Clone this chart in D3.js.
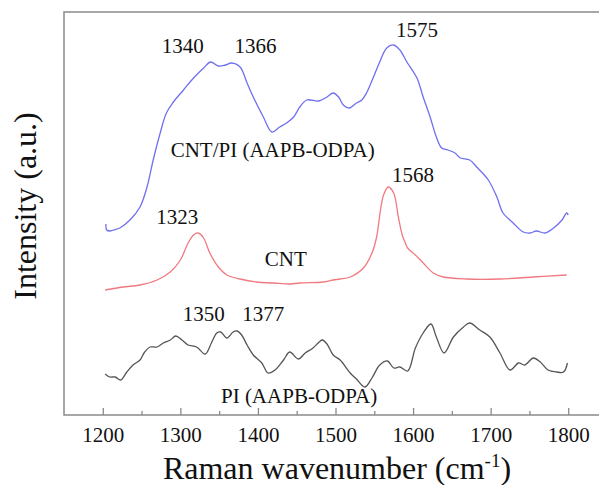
<!DOCTYPE html>
<html>
<head>
<meta charset="utf-8">
<script src="https://cdn.jsdelivr.net/npm/d3@7"></script>
<style>
  html, body { margin: 0; padding: 0; background: #fff; }
  svg { display: block; }
  text { font-family: "Liberation Serif", "Times New Roman", Times, serif; fill: #111; }
</style>
</head>
<body>
<svg id="chart" width="599" height="485"></svg>
<script>
// Raman shift (cm-1) and intensity (a.u.) for each spectrum
const cntPiWavenumber = [1204,1205,1209,1214,1222,1235,1248,1257,1265,1274,1282,1291,1304,1317,1330,1339,1349,1358,1366,1377,1386,1394,1407,1418,1428,1437,1446,1454,1463,1478,1489,1497,1504,1510,1518,1527,1534,1540,1549,1557,1566,1575,1583,1592,1605,1613,1622,1630,1637,1645,1654,1661,1673,1682,1697,1708,1716,1729,1742,1751,1759,1770,1781,1792,1798,1800];
const cntPiIntensity  = [191,185,184,185,187,195,208,228,255,282,302,313,325,337,347,353,349,350,352,348,332,318,298,283,288,292,298,308,315,314,318,322,318,310,307,312,315,322,338,353,367,370,365,353,337,318,298,278,267,265,262,257,255,248,235,218,202,192,183,182,184,182,187,195,202,200];

const cntWavenumber = [1203,1226,1248,1270,1287,1300,1310,1317,1323,1330,1338,1349,1360,1377,1398,1420,1441,1454,1484,1497,1506,1519,1536,1547,1553,1558,1562,1568,1575,1581,1586,1590,1593,1603,1613,1626,1639,1669,1712,1755,1798];
const cntIntensity  = [125,128,130,135,143,155,172,180,182,177,162,148,140,136,133,132,131,132,133,135,136,138,147,162,178,205,220,228,222,198,180,172,167,160,152,142,138,136,136,138,140];

const piWavenumber = [1203,1209,1216,1223,1231,1239,1248,1254,1261,1270,1278,1287,1294,1302,1310,1321,1332,1340,1347,1352,1360,1368,1373,1379,1386,1394,1405,1413,1422,1433,1441,1452,1461,1471,1479,1483,1489,1497,1506,1519,1527,1538,1547,1557,1567,1575,1583,1593,1603,1613,1623,1630,1640,1652,1665,1673,1686,1699,1712,1725,1736,1744,1755,1764,1774,1785,1794,1799];
const piIntensity  = [41,38,38,35,43,50,55,63,68,68,72,75,79,75,70,68,61,72,82,83,77,83,84,80,70,60,52,42,45,55,63,56,62,67,73,75,71,60,55,42,36,28,37,50,54,47,48,44,67,82,91,78,62,78,88,92,85,78,62,45,52,50,57,53,45,43,43,52];

const majorTicks = [1200,1300,1400,1500,1600,1700,1800];
const minorTicks = [1250,1350,1450,1550,1650,1750,1850];

const peakLabels = [
  {text: "1340", wn: 1303, y: 362},
  {text: "1366", wn: 1397, y: 362},
  {text: "1575", wn: 1605, y: 378},
  {text: "1323", wn: 1296, y: 191},
  {text: "1568", wn: 1600, y: 233},
  {text: "1350", wn: 1330, y: 94},
  {text: "1377", wn: 1407, y: 94}
];
const seriesLabels = [
  {text: "CNT/PI (AAPB-ODPA)", wn: 1419, y: 258},
  {text: "CNT", wn: 1436, y: 149},
  {text: "PI (AAPB-ODPA)", wn: 1453, y: 12}
];

const svg = d3.select("#chart");
const mLeft = 64, mTop = 12, mBottom = 415, mRight = 607;

const x = d3.scaleLinear().domain([1150, 1850]).range([mLeft, mRight]);
const y = d3.scaleLinear().domain([0, 403]).range([mBottom, mTop]);

// frame
svg.append("rect")
  .attr("x", mLeft).attr("y", mTop)
  .attr("width", mRight - mLeft).attr("height", mBottom - mTop)
  .attr("fill", "none").attr("stroke", "#8a8a8a").attr("stroke-width", 1.5);

// axes
const axisMajor = d3.axisBottom(x).tickValues(majorTicks).tickSizeInner(-7).tickSizeOuter(0).tickPadding(12).tickFormat(d3.format("d"));
const gA = svg.append("g").attr("transform", `translate(0,${mBottom})`).call(axisMajor);
gA.attr("font-family", null);
gA.select(".domain").remove();
gA.selectAll("line").attr("stroke", "#8a8a8a").attr("stroke-width", 1.3);
gA.selectAll("text").attr("font-size", 21).attr("fill", "#222");

const axisMinor = d3.axisBottom(x).tickValues(minorTicks).tickSizeInner(-4).tickSizeOuter(0).tickFormat("");
const gM = svg.append("g").attr("transform", `translate(0,${mBottom})`).call(axisMinor);
gM.select(".domain").remove();
gM.selectAll("line").attr("stroke", "#8a8a8a").attr("stroke-width", 1.3);

// lines
const line = d3.line().x(d => x(d[0])).y(d => y(d[1])).curve(d3.curveCatmullRom.alpha(0.5));
const series = [
  {wn: cntPiWavenumber, v: cntPiIntensity, color: "#6f6ff0"},
  {wn: cntWavenumber, v: cntIntensity, color: "#f07a80"},
  {wn: piWavenumber, v: piIntensity, color: "#555555"}
];
series.forEach(s => {
  svg.append("path")
    .datum(s.wn.map((w, i) => [w, s.v[i]]))
    .attr("d", line)
    .attr("fill", "none")
    .attr("stroke", s.color)
    .attr("stroke-width", 1.3);
});

// annotations
peakLabels.concat(seriesLabels).forEach(l => {
  svg.append("text")
    .attr("x", x(l.wn)).attr("y", y(l.y))
    .attr("text-anchor", "middle")
    .attr("font-size", 21)
    .text(l.text);
});

// axis titles
const xt = svg.append("text")
  .attr("x", 337).attr("y", 479)
  .attr("text-anchor", "middle")
  .attr("font-size", 32);
xt.append("tspan").text("Raman wavenumber (cm");
xt.append("tspan").attr("font-size", 19).attr("dy", -12).text("-1");
xt.append("tspan").attr("dy", 12).text(")");

svg.append("text")
  .attr("transform", "translate(36,206) rotate(-90)")
  .attr("text-anchor", "middle")
  .attr("font-size", 32)
  .text("Intensity (a.u.)");
</script>
</body>
</html>
